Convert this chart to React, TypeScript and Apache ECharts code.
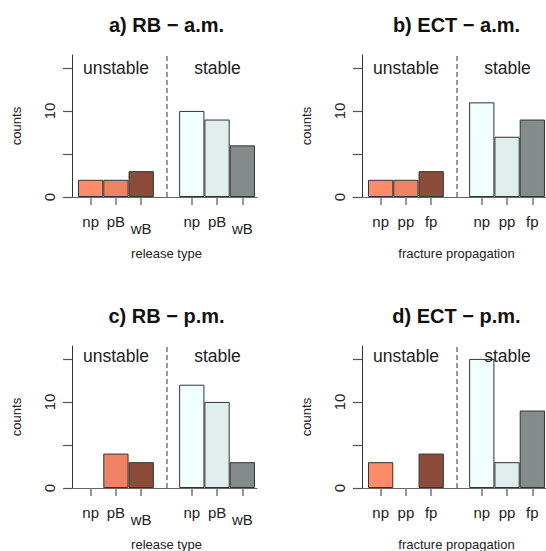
import React, { useEffect, useRef } from 'react';
import * as echarts from 'echarts';

// ---- data ----
const panelTitles = ['a) RB \u2212 a.m.', 'b) ECT \u2212 a.m.', 'c) RB \u2212 p.m.', 'd) ECT \u2212 p.m.'];
const rbLabels = ['np', 'pB', 'wB'];
const ectLabels = ['np', 'pp', 'fp'];
const groupLabels = ['unstable', 'stable'];
const xAxisTitles = ['release type', 'fracture propagation'];
const yAxisTitle = 'counts';

const rbAmUnstable = [2, 2, 3];
const rbAmStable = [10, 9, 6];
const ectAmUnstable = [2, 2, 3];
const ectAmStable = [11, 7, 9];
const rbPmUnstable = [0, 4, 3];
const rbPmStable = [12, 10, 3];
const ectPmUnstable = [3, 0, 4];
const ectPmStable = [15, 3, 9];

const yTickValues = [0, 5, 10, 15];
const yLabelValues = [0, 10];

const unstableColors = ['#FF8C69', '#EE8262', '#8B4C39'];
const stableColors = ['#F0FFFF', '#E0EEEE', '#838B8B'];

// ---- layout ----
const W = 546;
const H = 551;
const FONT = '"Liberation Sans", Arial, Helvetica, sans-serif';
const colLeft = [72, 362];
const rowTop = [55, 346];
const plotW = 185;
const plotH = 142;
const groupPos = [[1, 2, 3], [5, 6, 7]];
const dividerPos = 4;
const xMin = 0.263;
const xMax = 7.58;
const yMax = 16.5;
const barW = plotW / (xMax - xMin);

const panels = [
  { title: panelTitles[0], labels: rbLabels, unstable: rbAmUnstable, stable: rbAmStable, xTitle: xAxisTitles[0], col: 0, row: 0 },
  { title: panelTitles[1], labels: ectLabels, unstable: ectAmUnstable, stable: ectAmStable, xTitle: xAxisTitles[1], col: 1, row: 0 },
  { title: panelTitles[2], labels: rbLabels, unstable: rbPmUnstable, stable: rbPmStable, xTitle: xAxisTitles[0], col: 0, row: 1 },
  { title: panelTitles[3], labels: ectLabels, unstable: ectPmUnstable, stable: ectPmStable, xTitle: xAxisTitles[1], col: 1, row: 1 },
];

function buildOption() {
  const grid: any[] = [];
  const xAxis: any[] = [];
  const yAxis: any[] = [];
  const series: any[] = [];
  const graphic: any[] = [];
  const allPos = [...groupPos[0], ...groupPos[1]];

  panels.forEach((p, i) => {
    const left = colLeft[p.col];
    const top = rowTop[p.row];
    grid.push({ left, top, width: plotW, height: plotH, containLabel: false, outerBoundsMode: 'none' });
    const allLabels = [...p.labels, ...p.labels];
    xAxis.push({
      type: 'value',
      gridIndex: i,
      min: xMin,
      max: xMax,
      axisLine: { show: true, onZero: false, lineStyle: { color: '#666', width: 1 } },
      splitLine: { show: false },
      axisTick: { show: true, customValues: allPos, length: 8, lineStyle: { color: '#777', width: 1.5 } },
      axisLabel: {
        show: true,
        customValues: allPos,
        margin: 16.5,
        fontSize: 15,
        fontFamily: FONT,
        color: '#222',
        formatter: (v: number) => {
          const idx = allPos.indexOf(Math.round(v));
          const t = idx >= 0 ? allLabels[idx] : '';
          return t.charAt(0) === 'w' ? '{w|' + t + '}' : t;
        },
        rich: { w: { fontSize: 15, fontFamily: FONT, color: '#222', padding: [7, 0, 0, 0] } },
      },
    });
    yAxis.push({
      type: 'value',
      gridIndex: i,
      min: 0,
      max: yMax,
      interval: 5,
      axisLine: { show: true, lineStyle: { color: '#333', width: 1 } },
      splitLine: { show: false },
      axisTick: { show: true, customValues: yTickValues, length: 9, lineStyle: { color: '#555', width: 1.2 } },
      axisLabel: { show: true, customValues: yLabelValues, rotate: 90, margin: 15, fontSize: 15, fontFamily: FONT, color: '#222' },
    });
    const data: any[] = [];
    p.unstable.forEach((v, k) => data.push({ value: [groupPos[0][k], v], itemStyle: { color: unstableColors[k], borderColor: '#333', borderWidth: v === 0 ? 0 : 1 } }));
    p.stable.forEach((v, k) => data.push({ value: [groupPos[1][k], v], itemStyle: { color: stableColors[k], borderColor: '#333', borderWidth: v === 0 ? 0 : 1 } }));
    series.push({
      type: 'bar',
      xAxisIndex: i,
      yAxisIndex: i,
      barWidth: barW,
      data,
      markLine: {
        silent: true,
        symbol: ['none', 'none'],
        label: { show: false },
        lineStyle: { type: [5, 3], color: '#999', width: 2 },
        data: [{ xAxis: dividerPos }],
      },
    });

    const cx = left + plotW / 2 + 2;
    graphic.push({ type: 'text', x: cx, y: top - 30.5, z: 100, style: { text: p.title, font: 'bold 20px ' + FONT, fill: '#111', align: 'center', verticalAlign: 'middle' } });
    const gy = top + (p.row === 0 ? 13.2 : 9.6);
    graphic.push({ type: 'text', x: left + 44, y: gy, z: 100, style: { text: groupLabels[0], font: '17.5px ' + FONT, fill: '#222', align: 'center', verticalAlign: 'middle' } });
    graphic.push({ type: 'text', x: left + 145.5, y: gy, z: 100, style: { text: groupLabels[1], font: '17.5px ' + FONT, fill: '#222', align: 'center', verticalAlign: 'middle' } });
    graphic.push({ type: 'text', x: left - 55.5, y: top + plotH / 2, rotation: Math.PI / 2, z: 100, style: { text: yAxisTitle, font: '13px ' + FONT, fill: '#222', align: 'center', verticalAlign: 'middle' } });
    graphic.push({ type: 'text', x: cx, y: top + 198, z: 100, style: { text: p.xTitle, font: '13px ' + FONT, fill: '#222', align: 'center', verticalAlign: 'middle' } });
  });

  return { animation: false, backgroundColor: '#fff', grid, xAxis, yAxis, series, graphic };
}

export default function App() {
  const ref = useRef<HTMLDivElement>(null);
  useEffect(() => {
    if (!ref.current) return;
    const chart = echarts.init(ref.current, undefined, { renderer: 'svg', width: W, height: H });
    chart.setOption(buildOption() as any);
    return () => chart.dispose();
  }, []);
  return <div ref={ref} style={{ position: 'fixed', left: 0, top: 0, width: W, height: H }} />;
}
